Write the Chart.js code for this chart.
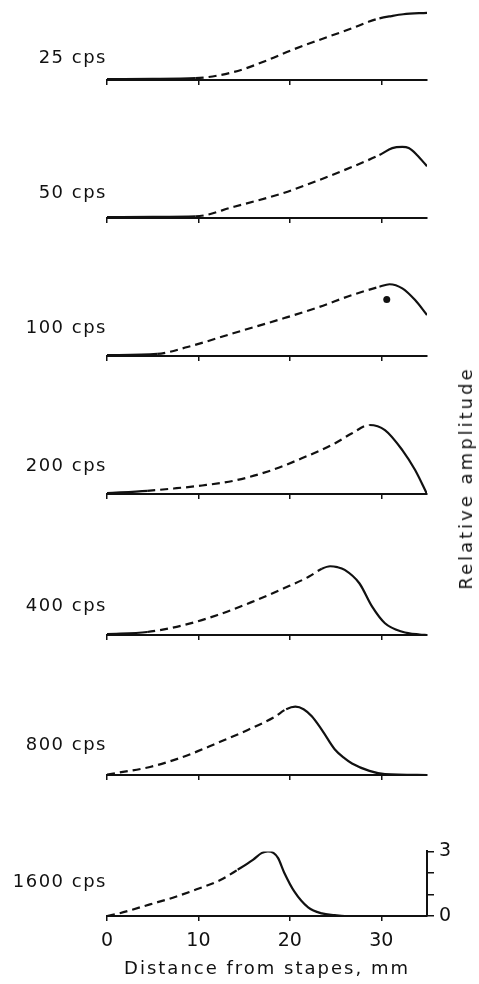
<!DOCTYPE html>
<html>
<head>
<meta charset="utf-8">
<script src="https://cdn.jsdelivr.net/npm/chart.js@4.4.1/dist/chart.umd.min.js"></script>
<style>
  html, body { margin: 0; padding: 0; background: #fff; }
  body { width: 479px; height: 984px; position: relative; overflow: hidden;
         font-family: "DejaVu Sans", sans-serif; color: #111; }
  canvas { position: absolute; left: 0; }
  .lbl { position: absolute; left: 0; width: 107px; text-align: right; font-size: 18px;
         line-height: 18px; letter-spacing: 1.5px; white-space: nowrap; }
  .ytitle { position: absolute; font-size: 18px; line-height: 18px; letter-spacing: 3px;
            white-space: nowrap; transform: translate(-50%, -50%) rotate(-90deg); }
</style>
</head>
<body>
<script>
// ---------------- data ----------------
const frequencies = ['25 cps', '50 cps', '100 cps', '200 cps', '400 cps', '800 cps', '1600 cps'];

const dist25 = [0, 5, 9.7, 13.9, 17.6, 20.2, 23.2, 26.8, 28.6, 29.8, 31.1, 32.4, 35];
const amp25  = [0.04, 0.05, 0.08, 0.35, 0.87, 1.30, 1.74, 2.25, 2.53, 2.68, 2.78, 2.86, 2.92];

const dist50 = [0, 5, 9.7, 13.9, 19.4, 23.2, 26.8, 29.8, 31.2, 32.3, 33.0, 33.9, 35];
const amp50  = [0.04, 0.05, 0.07, 0.49, 1.10, 1.65, 2.22, 2.74, 3.04, 3.09, 3.04, 2.74, 2.25];

const dist100 = [0, 5.5, 8.8, 13.9, 19.4, 23.2, 26.8, 29.8, 30.9, 32.3, 33.7, 35];
const amp100  = [0.04, 0.09, 0.39, 1.0, 1.65, 2.13, 2.65, 3.01, 3.12, 2.94, 2.43, 1.78];

const dist200 = [0, 4.4, 7.3, 10.4, 13.9, 17.6, 21.3, 24.9, 26.8, 28.7, 30.4, 32.3, 33.7, 35];
const amp200  = [0.04, 0.14, 0.24, 0.37, 0.58, 0.98, 1.55, 2.2, 2.64, 3.0, 2.78, 1.91, 1.04, 0];

const dist400 = [0, 4.4, 8.4, 12.1, 15.8, 19.4, 22.1, 23.5, 24.4, 25.2, 26.0, 27.6, 29.0, 30.4, 32.3, 34.2, 35];
const amp400  = [0.04, 0.13, 0.43, 0.87, 1.43, 2.04, 2.54, 2.88, 2.99, 2.95, 2.83, 2.25, 1.23, 0.51, 0.14, 0.02, 0];

const dist800 = [0, 4.7, 7.7, 9.6, 11.7, 15.4, 18.3, 19.6, 20.6, 21.5, 22.4, 23.5, 24.9, 26.0, 26.8, 28.7, 30.4, 35];
const amp800  = [0.02, 0.35, 0.70, 0.98, 1.33, 1.96, 2.52, 2.86, 2.97, 2.86, 2.55, 1.96, 1.12, 0.72, 0.5, 0.18, 0.04, 0];

const dist1600 = [0, 1.4, 4.7, 7.2, 9.8, 12.4, 14.3, 16.0, 16.9, 17.6, 18.2, 18.7, 19.4, 20.5, 22.0, 23.5, 24.9, 26.0, 35];
const amp1600  = [0, 0.13, 0.54, 0.85, 1.24, 1.67, 2.15, 2.62, 2.92, 3.0, 2.93, 2.7, 2.0, 1.13, 0.4, 0.12, 0.04, 0, 0];

// measured (solid) portions: solid up to solidUntil, dashed between, solid from solidFrom
const solidUntil = [9.7, 9.7, 5.5, 4.4, 4.4, 0, 0];
const solidFrom  = [29.8, 29.8, 29.8, 28.7, 23.5, 19.6, 14.3];

// single measured point (100 cps)
const dotDist = [30.6];
const dotAmp  = [2.46];

const xTicks = [0, 10, 20, 30];
const xTickLabels = ['0', '10', '20', '30'];
const ampTicks = [0, 1, 2, 3];
const ampTickLabels = ['0', '', '', '3'];
const xTitle = 'Distance from stapes, mm';
const yTitle = 'Relative amplitude';

// ---------------- layout / style ----------------
const INK = '#111';
const FONT = '"DejaVu Sans", sans-serif';
const PX_PER_UNIT = 23;
const baselines = [80, 218, 356, 494, 635, 775, 916];
const labelRise = [23, 26, 29, 29, 30, 31, 35];
const AREA_LEFT = 107, AREA_RIGHT = 427, W = 479;

const distances = [dist25, dist50, dist100, dist200, dist400, dist800, dist1600];
const amplitudes = [amp25, amp50, amp100, amp200, amp400, amp800, amp1600];

const letterSpacingTitle = {
  id: 'letterSpacingTitle',
  beforeDraw(chart) {
    const s = chart.scales.x;
    if (s && !s._lsWrapped) {
      const orig = s.drawTitle.bind(s);
      s.drawTitle = function () {
        const ctx = this.ctx;
        ctx.save();
        ctx.letterSpacing = '2px';
        orig();
        ctx.restore();
      };
      s._lsWrapped = true;
    }
  }
};

frequencies.forEach((freq, i) => {
  const last = i === frequencies.length - 1;
  const ymax = last ? 3 : 3.2;
  const plotH = ymax * PX_PER_UNIT;
  const padTop = last ? 12 : 80 - plotH;
  const axisH = last ? 68 : 10;
  const topAbove = padTop + plotH;
  const H = Math.round(topAbove + axisH);

  const cv = document.createElement('canvas');
  cv.width = W; cv.height = H;
  cv.style.width = W + 'px'; cv.style.height = H + 'px';
  cv.style.top = (baselines[i] - topAbove) + 'px';
  document.body.appendChild(cv);

  const lbl = document.createElement('div');
  lbl.className = 'lbl';
  lbl.textContent = freq;
  lbl.style.top = (baselines[i] - labelRise[i] - 9) + 'px';
  document.body.appendChild(lbl);

  const su = solidUntil[i], sf = solidFrom[i];
  const datasets = [{
    type: 'line',
    data: distances[i].map((d, k) => ({ x: d, y: amplitudes[i][k] })),
    borderColor: INK,
    borderWidth: 2.2,
    pointRadius: 0,
    fill: false,
    cubicInterpolationMode: 'monotone',
    segment: {
      borderDash: ctx => (ctx.p0.parsed.x >= su - 1e-9 && ctx.p1.parsed.x <= sf + 1e-9) ? [8, 5] : undefined
    }
  }];
  if (i === 2) {
    datasets.push({
      type: 'scatter',
      data: dotDist.map((d, k) => ({ x: d, y: dotAmp[k] })),
      pointRadius: 3.5,
      pointBackgroundColor: INK,
      pointBorderWidth: 0
    });
  }

  const yScale = {
    display: last,
    position: 'right',
    min: 0, max: ymax
  };
  if (last) {
    Object.assign(yScale, {
      afterBuildTicks: s => { s.ticks = ampTicks.map(v => ({ value: v })); },
      grid: { drawOnChartArea: false, drawTicks: true, tickLength: 7, color: INK, lineWidth: 1.5 },
      border: { display: true, color: INK, width: 2 },
      ticks: {
        autoSkip: false, padding: 5, color: INK, font: { family: FONT, size: 19 },
        callback: (v, k) => ampTickLabels[k]
      },
      afterFit: s => { s.width = W - AREA_RIGHT; }
    });
  }

  new Chart(cv, {
    type: 'line',
    data: { datasets },
    plugins: last ? [letterSpacingTitle] : [],
    options: {
      responsive: false,
      animation: false,
      devicePixelRatio: 1,
      layout: { padding: { left: AREA_LEFT, right: last ? 0 : W - AREA_RIGHT, top: padTop, bottom: 0 } },
      plugins: { legend: { display: false }, tooltip: { enabled: false } },
      scales: {
        x: {
          type: 'linear', min: 0, max: 35,
          afterBuildTicks: s => { s.ticks = xTicks.map(v => ({ value: v })); },
          grid: { drawOnChartArea: false, drawTicks: true, tickLength: 5, color: INK, lineWidth: 1.5 },
          border: { display: true, color: INK, width: 2 },
          ticks: {
            display: last, autoSkip: false, maxRotation: 0, padding: 9, color: INK,
            font: { family: FONT, size: 19 },
            callback: (v, k) => xTickLabels[k]
          },
          title: {
            display: last, text: xTitle, color: INK,
            font: { family: FONT, size: 18 }, padding: { top: 0, bottom: 4 }
          },
          afterFit: s => { s.height = axisH; }
        },
        y: yScale
      }
    }
  });
});

const yt = document.createElement('div');
yt.className = 'ytitle';
yt.textContent = yTitle;
yt.style.left = '466px';
yt.style.top = '478px';
document.body.appendChild(yt);
</script>
</body>
</html>
